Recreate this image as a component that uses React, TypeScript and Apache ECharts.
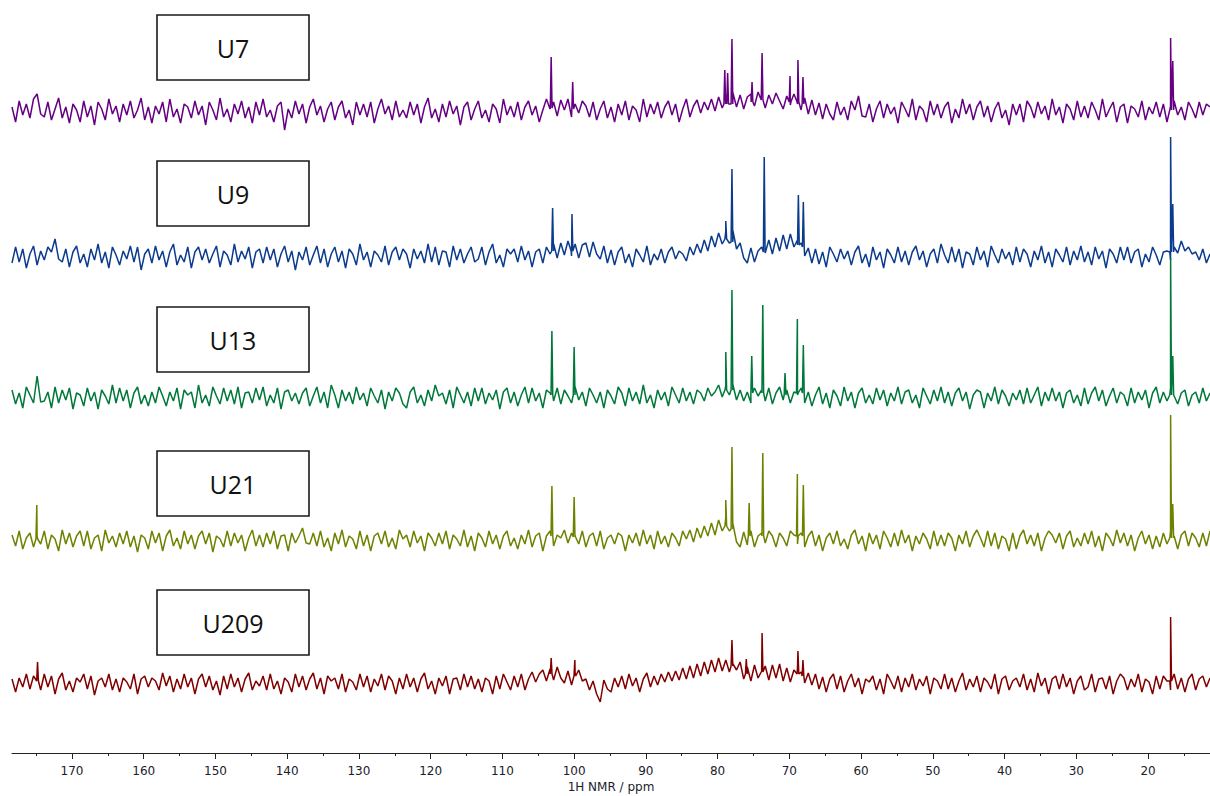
import React, { useEffect, useRef } from "react";
import * as echarts from "echarts";

// ---- data ----
const SAMPLE_NAMES = ["U7", "U9", "U13", "U21", "U209"];
const SERIES_COLORS = ["#650082", "#0b3b8c", "#00783a", "#6e8200", "#800000"];

const PPM_START = 178.36;
const PPM_STEP = 0.5;
const AXIS_MIN = 11.36;
const AXIS_MAX = 178.36;
const MAJOR_TICKS = [20, 30, 40, 50, 60, 70, 80, 90, 100, 110, 120, 130, 140, 150, 160, 170];
const MINOR_TICKS = [15, 25, 35, 45, 55, 65, 75, 85, 95, 105, 115, 125, 135, 145, 155, 165, 175];

// baseline noise (one value every 0.5 ppm, from 178.36 ppm down)
const noiseU7 = [
  5, -10, 11, -3, 8, -6, 13, 18, -2, -5,
  10, -8, 3, 14, -6, 5, -11, 8, 2, -10,
  11, -5, 6, -13, 10, 3, -8, 13, -2, 6,
  -10, 8, -3, 11, -6, 2, 14, -8, 5, -11,
  6, -2, 10, -10, 13, -5, 3, -11, 8, 5,
  -6, 11, -3, 6, -13, 10, 2, -8, 14, -5,
  3, -10, 8, -2, 11, -6, 5, -11, 10, -3,
  13, -5, 2, -10, 6, 10, -18, 3, -6, 11,
  -2, 8, -11, 5, 13, -3, 6, -10, 3, 10,
  -8, 5, 11, -6, 2, -13, 10, -3, 8, -5,
  10, -11, 3, 13, -2, 6, -8, 11, -5, 2,
  -6, 10, -3, 8, -11, 5, 14, -6, 3, -10,
  8, -5, 11, -2, 6, -13, 5, 10, -8, 3,
  11, -6, 2, -10, 8, 3, -11, 13, -3, 6,
  -5, 10, -8, 5, 11, -3, 6, -10, 2, 13,
  3, 10, -4, 12, 2, 13, -5, 8, -1, 11,
  6, -5, 10, -8, 3, 11, -6, 5, -10, 8,
  -3, 11, -8, 6, 2, -10, 13, -5, 8, -2,
  10, -6, 5, 11, -3, 8, -10, 3, 13, -5,
  6, 12, -1, 10, 2, 13, 1, 15, 4, 17,
  8, 19, 5, 17, 3, 15, 18, 6, 20, 12,
  4, 17, 8, 19, 11, 3, 16, 7, 18, 8,
  2, 14, -2, 12, -3, 9, -7, 8, -2, -8,
  10, -3, 5, -8, 11, 2, 16, -4, -5, 8,
  -10, 3, 11, -6, 8, -2, 5, -11, 10, 3,
  -5, 13, -8, 6, 2, -10, 11, -3, 8, -6,
  5, 10, -11, 3, -6, 13, -2, 8, -8, 5,
  11, -5, 6, -10, 3, 10, -6, 2, -13, 8,
  -3, 8, -10, 11, 5, -6, 10, -2, 6, -8,
  13, -3, 5, -11, 8, 3, -8, 11, -5, 6,
  -6, 10, 2, -8, 13, -5, 3, 10, -10, 5,
  8, -11, 6, 3, -5, 11, -8, 5, -2, 10,
  -5, 8, -10, 6, 11, -3, 5, -8, 10, 3,
  -6, 10, -3, 8, 5,
];
const noiseU9 = [
  -6, 10, -5, 8, -11, 3, 11, -8, 6, -3,
  10, 5, 18, -2, -5, 8, -10, 5, 11, -6,
  3, -10, 8, -3, 13, -6, 5, -11, 10, 2,
  -8, 6, -2, 11, -5, 10, -13, 3, 8, -6,
  11, -3, 6, -10, 5, 13, -8, 2, -5, 10,
  -11, 5, 10, -3, 8, -6, 3, 11, -10, 6,
  2, -8, 13, -5, 6, -2, 10, -11, 5, 8,
  -6, 10, -3, 8, -10, 3, 11, -5, 6, -13,
  5, -3, 10, -8, 2, 11, -6, 8, -10, 3,
  10, -5, 6, -11, 8, 3, -8, 13, -3, 5,
  -10, 6, 2, -5, 11, -8, 5, 10, -3, 8,
  3, -11, 8, -2, 6, -6, 13, -5, 10, -8,
  6, 5, -10, 11, -3, 8, -6, 3, 10, -5,
  -2, 10, -8, 5, 13, -6, 2, -10, 8, 3,
  8, -5, 11, -3, 6, -10, 5, 8, -6, 10,
  3, 13, -1, 14, 2, 16, 1, 13, -1, 12,
  14, 0, 15, 3, -2, 11, -6, 7, -8, 5,
  10, -6, 3, -10, 8, 2, -5, 11, -8, 3,
  -3, 8, -6, 5, 10, -2, 6, 3, -4, 10,
  2, 13, 4, 17, 6, 21, 10, 24, 13, 26,
  14, 26, 8, 14, -1, -6, 9, -5, 6, 10,
  4, 17, 3, 19, 6, 22, 8, 23, 10, 17,
  14, 1, 9, -6, 8, -7, 5, -10, 10, 3,
  -5, 8, -2, 6, -8, 5, 11, -6, 3, -10,
  10, -3, 5, -11, 8, 2, -6, 10, -5, 6,
  -8, 5, 11, -3, 6, -10, 3, 8, -6, 13,
  2, -6, 10, -5, 8, -11, 5, 3, -8, 10,
  -3, 6, -10, 11, 2, -6, 8, -2, 5, -8,
  10, -5, 8, 3, -10, 6, -3, 11, -6, 5,
  -10, 8, 2, -5, 10, -8, 6, -3, 11, -5,
  5, -8, 10, -2, 6, -11, 8, 3, -6, 10,
  -3, 10, -6, 5, 8, -10, 3, -5, 10, 2,
  -8, 5, 6, -3, 10, 4, 16, 6, 10, 3,
  5, -3, 8, -6, 3,
];
const noiseU13 = [
  8, -6, 5, -10, 11, 3, -5, 22, -4, -3,
  6, -10, 11, -5, 8, -2, 10, -11, 5, 3,
  -8, 10, -3, 6, -11, 8, 2, -6, 13, -5,
  10, -3, 8, -10, 5, 11, -6, 3, -8, 6,
  -5, 11, 2, -8, 6, -3, 10, -11, 8, 3,
  6, -10, 13, -5, 3, -8, 11, 2, -6, 10,
  -3, 8, -6, 11, -10, 5, 6, -5, 10, -2,
  11, -8, 3, -5, 10, -11, 6, 8, -3, 5,
  -6, 5, 10, -8, 2, 11, -5, 6, -10, 13,
  3, -10, 8, -3, 6, -6, 11, -2, 5, -8,
  10, 2, -5, 8, -11, 6, -3, 10, 5, -6,
  -10, 6, 11, -5, 3, -8, 8, -3, 13, 2,
  5, -6, 8, -10, 11, 3, -5, 6, -8, 10,
  -3, 10, -6, 5, -2, 8, -11, 6, 10, -5,
  6, -8, 3, 11, -5, 10, -3, 5, -10, 8,
  5, -3, 10, -6, 8, 2, -5, 11, -2, 6,
  -8, 10, 3, -5, 6, -10, 8, 2, -6, 11,
  5, -8, 10, -3, 6, -6, 13, -5, 3, -10,
  8, -2, 6, -8, 11, 3, -5, 10, -3, 6,
  -6, 8, 5, -3, 10, 2, 6, 13, 1, 12,
  3, 13, -2, 8, -3, 6, -5, 10, 2, 8,
  -3, 10, -6, 5, 11, -2, 8, -5, 6, 3,
  10, -5, 6, -8, 3, 11, -6, 5, -10, 8,
  2, -8, 11, -3, 6, -10, 5, 10, -5, 3,
  -6, 10, -2, 8, -8, 5, -3, 11, -6, 6,
  8, -5, 3, -10, 10, 2, -6, 8, -3, 11,
  -5, 6, -8, 5, 10, -3, 6, -11, 3, 8,
  6, -10, 5, -3, 11, -6, 8, 2, -8, 5,
  -2, 8, -6, 10, -5, 3, 11, -8, 6, -3,
  10, -3, 6, -10, 5, 8, -5, 3, -8, 10,
  -6, 5, 11, -3, 8, -8, 2, 10, -5, 6,
  3, -8, 10, -5, 6, -2, 8, -10, 5, 11,
  -5, 6, -3, 10, 2, -6, 5, 8, -8, 3,
  6, -5, 10, -3, 5,
];
const noiseU21 = [
  6, -5, 10, -8, 3, 8, -6, 5, -3, 10,
  -8, 6, 2, -10, 11, -3, 8, -6, 5, 10,
  -5, 10, -8, 3, 6, -10, 11, -2, 5, -6,
  8, -3, 10, -6, 5, -11, 6, 3, -8, 10,
  -2, 8, -10, 5, 11, -5, 3, -8, 10, -3,
  6, -8, 5, 10, -3, 8, -11, 5, 2, -6,
  10, -5, 8, -2, 6, -10, 3, 11, -5, 6,
  -6, 8, -3, 10, -8, 5, 6, -10, 8, -2,
  5, 13, -2, -3, 8, -5, 10, -6, 3, -10,
  8, -3, 11, -6, 5, 2, -8, 10, -5, 6,
  -10, 5, 8, -3, 10, -6, 3, -8, 11, 2,
  6, -6, 10, -2, 5, -10, 8, 3, -5, 8,
  -3, 10, -8, 6, 2, -5, 11, -6, 5, -10,
  8, 3, -6, 10, -3, 6, -8, 5, 10, -5,
  3, -8, 6, -3, 11, -6, 5, 8, -10, 5,
  10, -5, 6, 3, 11, -2, 8, 5, -3, 10,
  -6, 5, 8, -5, 10, -8, 3, 6, -3, 8,
  5, -10, 6, -2, 8, -5, 11, -3, 6, -8,
  10, -3, 5, -6, 8, 3, -5, 10, 2, 11,
  -1, 13, 3, 15, 5, 18, 6, 21, 10, 24,
  10, 17, -1, -6, 9, -4, 10, -6, 5, 8,
  -2, 10, 5, -6, 8, 3, -5, 10, 6, -3,
  8, -6, 5, 10, -5, 6, -10, 3, 8, -3,
  10, -5, 2, -8, 6, 11, -3, 5, -10, 8,
  -3, 6, -8, 10, 3, -6, 8, -5, 11, -2,
  6, -10, 5, -3, 8, 2, -8, 10, -5, 6,
  -5, 8, 3, -10, 6, -3, 10, -6, 5, 11,
  3, -6, 10, -5, 8, -8, 5, 2, -10, 8,
  -8, 5, 11, -3, 6, -5, 8, -10, 3, 10,
  6, -2, 8, -8, 5, 10, -6, 3, -5, 8,
  -3, 10, -6, 5, -10, 8, 3, -5, 11, -2,
  8, -5, 6, -10, 3, 10, -3, 6, -8, 5,
  -6, 8, -3, 10, 5, -8, 6, 10, -5, 8,
  3, -6, 8, -5, 10,
];
const noiseU209 = [
  5, -8, 6, -3, 10, -5, 8, 3, -6, 10,
  -3, 8, -10, 5, 11, -6, 3, -8, 6, 2,
  10, -5, 8, -11, 3, 6, -3, 10, -6, 5,
  -8, 6, 2, -5, 10, -10, 5, 8, -3, 6,
  3, -6, 11, -2, 8, -8, 5, -5, 10, -3,
  6, -10, 5, 10, -3, 8, -6, 3, -11, 8,
  -5, 10, -3, 6, -8, 5, 11, -6, 3, -2,
  8, -6, 10, -5, 3, -10, 6, 2, -8, 10,
  -3, 8, -6, 5, 11, -5, 6, -10, 8, 3,
  6, -5, 10, -8, 5, 2, -6, 10, -3, 8,
  -8, 5, -2, 10, -6, 8, 3, -10, 6, -5,
  10, -3, 6, -8, 5, 11, -5, 3, -10, 6,
  -2, 8, -10, 5, 6, -6, 10, -3, 8, -5,
  5, -8, 6, 3, -10, 8, -5, 10, 2, -6,
  8, -3, 10, -6, 5, 12, 2, 10, 14, 3,
  15, 4, 17, 6, 1, 13, -1, 11, 14, 3,
  5, -6, 3, -10, -18, 4, -5, -8, 6, -3,
  8, -5, 10, -2, 6, -8, 5, 11, -3, 8,
  -1, 10, 2, 12, 3, 13, 4, 16, 5, 18,
  6, 20, 8, 22, 10, 24, 12, 26, 13, 24,
  12, 20, 14, 22, 5, 17, 3, 19, 6, 13,
  18, 4, 19, 6, 20, 3, 16, 2, 14, 17,
  12, 1, 11, -1, 10, -5, 7, -8, 5, 10,
  -5, 8, -8, 3, 10, -3, 6, -10, 5, 2,
  8, -6, 5, -10, 10, 3, -5, 8, -8, 6,
  -3, 10, -6, 5, -2, 8, -10, 6, 3, -5,
  10, -5, 6, -8, 3, 11, -6, 5, -3, 8,
  -8, 6, 2, -5, 10, -10, 5, 8, -6, 3,
  6, -3, 10, -6, 5, -8, 11, -2, 6, -10,
  5, 8, -5, 10, -3, 6, -10, 3, 8, -6,
  -3, 10, -8, 5, 6, -5, 8, -10, 3, 10,
  6, -6, 5, -3, 10, -8, 5, 2, -10, 8,
  -5, 8, 3, -6, 10, -5, 6, -8, 5, 10,
  -6, 5, 8, -3, 6,
];

// peaks: [ppm, top intensity, local base level]
const peaksU7 = [
  [103.2, 55, 4], [100.2, 30, 3], [79.0, 42, 8], [78.6, 39, 8], [78.0, 73, 8],
  [75.2, 30, 10], [73.8, 59, 12], [69.9, 36, 10], [68.8, 52, 10], [68.1, 35, 8],
  [16.85, 74, 2], [16.55, 51, 2],
];
const peaksU9 = [
  [103.0, 49, 6], [100.3, 43, 6], [78.86, 36, 18], [78.0, 88, 15], [73.5, 100, 5],
  [68.74, 62, 12], [68.05, 55, 10], [16.85, 120, 5], [16.55, 53, 5],
];
const peaksU13 = [
  [103.1, 67, 3], [100.0, 51, 3], [78.86, 46, 8], [78.0, 108, 8], [75.24, 42, 5],
  [73.7, 93, 5], [70.6, 25, 3], [68.88, 79, 5], [68.05, 53, 5], [16.85, 140, 3], [16.55, 42, 3],
];
const peaksU21 = [
  [174.9, 36, 2], [103.1, 55, 5], [100.0, 44, 4], [78.86, 41, 15], [78.0, 94, 12],
  [75.6, 38, 5], [73.7, 88, 5], [68.88, 67, 5], [68.05, 56, 5], [16.85, 126, 3], [16.55, 37, 3],
];
const peaksU209 = [
  [174.8, 22, 3], [103.2, 26, 10], [99.9, 24, 8], [78.0, 44, 18], [76.0, 25, 10],
  [73.8, 51, 12], [68.8, 33, 10], [68.1, 24, 8], [16.85, 67, 3],
];

const NOISE = [noiseU7, noiseU9, noiseU13, noiseU21, noiseU209];
const PEAKS = [peaksU7, peaksU9, peaksU13, peaksU21, peaksU209];

// ---- layout ----
const BASELINES = [112, 257, 398, 541, 684];
const BOX_TOPS = [15, 161, 307, 451, 590];
const Y_MIN = -69;
const Y_MAX = 100;
const HALF_W = 0.12;

function buildTrace(noise: number[], peaks: number[][]) {
  const pts: number[][] = noise.map((v, i) => [PPM_START - i * PPM_STEP, v]);
  peaks.forEach(([p, h, b]) => {
    pts.push([p + HALF_W, b], [p, h], [p - HALF_W, b]);
  });
  pts.sort((a, b) => b[0] - a[0]);
  return pts;
}

export default function App() {
  const ref = useRef<HTMLDivElement>(null);
  useEffect(() => {
    if (!ref.current) return;
    const chart = echarts.init(ref.current, undefined, { renderer: "svg" });
    const n = SAMPLE_NAMES.length;
    const grids = BASELINES.map((b) => ({
      left: 12,
      right: 0,
      top: b - Y_MAX,
      height: Y_MAX - Y_MIN,
      containLabel: false,
    }));
    const xAxes: any[] = [];
    for (let i = 0; i < n; i++) {
      const last = i === n - 1;
      xAxes.push({
        type: "value",
        gridIndex: i,
        position: "bottom",
        min: AXIS_MIN,
        max: AXIS_MAX,
        inverse: true,
        show: last,
        splitLine: { show: false },
        axisLine: { show: last, onZero: false, lineStyle: { color: "#222", width: 1 } },
        axisTick: { show: last, length: 6, customValues: MAJOR_TICKS, lineStyle: { color: "#222" } },
        axisLabel: {
          show: last,
          customValues: MAJOR_TICKS,
          margin: 12,
          fontSize: 12,
          color: "#1c1c2c",
          fontFamily: "DejaVu Sans",
        },
        name: last ? "1H NMR / ppm" : "",
        nameLocation: "middle",
        nameGap: 28,
        nameTextStyle: { fontSize: 12, color: "#1c1c2c", fontFamily: "DejaVu Sans" },
      });
    }
    // minor ticks on the bottom axis
    xAxes.push({
      type: "value",
      gridIndex: n - 1,
      position: "bottom",
      offset: 0,
      min: AXIS_MIN,
      max: AXIS_MAX,
      inverse: true,
      splitLine: { show: false },
      axisLine: { show: false, onZero: false },
      axisTick: { show: true, length: 3, customValues: MINOR_TICKS, lineStyle: { color: "#222" } },
      axisLabel: { show: false },
    });
    const yAxes = BASELINES.map((_, i) => ({
      type: "value",
      gridIndex: i,
      min: Y_MIN,
      max: Y_MAX,
      show: false,
    }));
    const series = SAMPLE_NAMES.map((name, i) => ({
      name,
      type: "line",
      xAxisIndex: i,
      yAxisIndex: i,
      data: buildTrace(NOISE[i], PEAKS[i]),
      showSymbol: false,
      symbol: "none",
      clip: false,
      lineStyle: { color: SERIES_COLORS[i], width: 1.5 },
      itemStyle: { color: SERIES_COLORS[i] },
      silent: true,
    }));
    const graphic: any[] = [];
    SAMPLE_NAMES.forEach((name, i) => {
      graphic.push({
        type: "rect",
        shape: { x: 157, y: BOX_TOPS[i], width: 152, height: 65 },
        style: { fill: "#ffffff", stroke: "#1a1a1a", lineWidth: 1.6 },
        z: 10,
      });
      graphic.push({
        type: "text",
        x: 233,
        y: BOX_TOPS[i] + 33,
        style: {
          text: name,
          font: "25px 'Open Sans'",
          fill: "#111111",
          textAlign: "center",
          textVerticalAlign: "middle",
        },
        z: 11,
      });
    });
    chart.setOption({
      animation: false,
      backgroundColor: "#ffffff",
      grid: grids,
      xAxis: xAxes,
      yAxis: yAxes,
      series,
      graphic,
    });
    return () => chart.dispose();
  }, []);
  return (
    <div
      ref={ref}
      style={{ position: "absolute", left: 0, top: 0, width: 1210, height: 796 }}
    />
  );
}
